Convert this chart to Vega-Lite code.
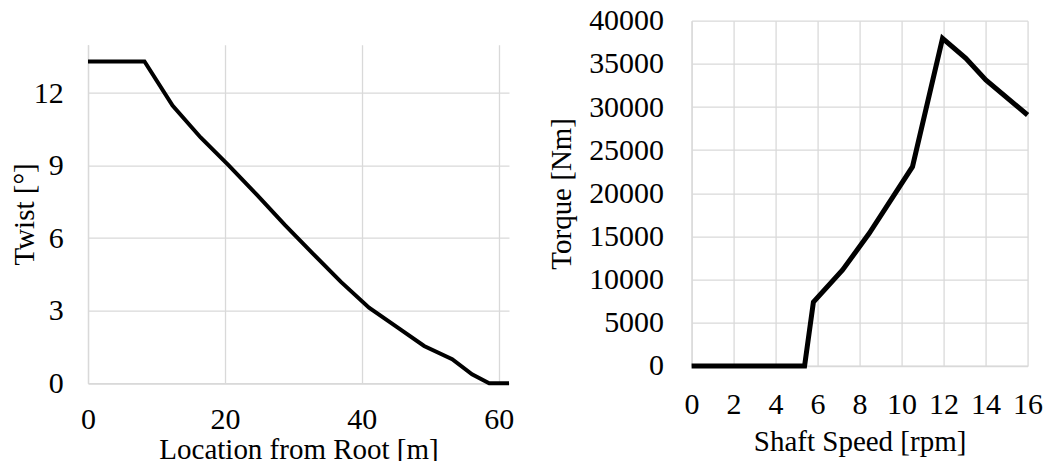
{
  "$schema": "https://vega.github.io/schema/vega-lite/v6.json",
  "padding": {"left": 10, "top": 5.7, "right": 0, "bottom": 0},
  "spacing": 30.6,
  "config": {
    "font": "Liberation Serif",
    "view": {"stroke": null},
    "concat": {"spacing": 20},
    "axis": {
      "labelFont": "Liberation Serif",
      "labelFontSize": 30,
      "labelColor": "#000000",
      "titleFont": "Liberation Serif",
      "titleFontSize": 29,
      "titleFontWeight": "normal",
      "titleColor": "#000000",
      "ticks": false,
      "tickSize": 0,
      "gridColor": "#d9d9d9",
      "gridWidth": 1.3,
      "domainColor": "#d9d9d9",
      "domainWidth": 1.3,
      "labelOverlap": false,
      "labelFlush": false
    }
  },
  "hconcat": [
    {
      "spacing": 20,
      "vconcat": [
        {
          "width": 1,
          "height": 3.3,
          "data": {"values": [{"k": 0}]},
          "mark": {"type": "point", "opacity": 0, "size": 0},
          "encoding": {}
        },
        {
          "width": 421,
          "height": 338.5,
          "data": {"values": [
            {"loc": 0, "twist": 13.308},
            {"loc": 8.25, "twist": 13.308},
            {"loc": 12.35, "twist": 11.48},
            {"loc": 16.45, "twist": 10.162},
            {"loc": 20.55, "twist": 9.011},
            {"loc": 24.65, "twist": 7.795},
            {"loc": 28.75, "twist": 6.544},
            {"loc": 32.85, "twist": 5.361},
            {"loc": 36.95, "twist": 4.188},
            {"loc": 41.05, "twist": 3.125},
            {"loc": 45.15, "twist": 2.319},
            {"loc": 49.1, "twist": 1.54},
            {"loc": 53.2, "twist": 0.99},
            {"loc": 56.1, "twist": 0.37},
            {"loc": 58.6, "twist": 0},
            {"loc": 61.5, "twist": 0}
          ]},
          "mark": {"type": "line", "color": "#000000", "strokeWidth": 4, "clip": false},
          "encoding": {
            "x": {"field": "loc", "type": "quantitative", "title": "Location from Root [m]",
                  "scale": {"domain": [0, 61.5], "nice": false},
                  "axis": {"values": [0, 20, 40, 60], "labelPadding": 21.7, "titlePadding": 0.6, "titleFontSize": 29}},
            "y": {"field": "twist", "type": "quantitative", "title": "Twist [°]",
                  "scale": {"domain": [0, 14], "nice": false},
                  "axis": {"values": [0, 3, 6, 9, 12], "labelPadding": 24.8, "titlePadding": -6.6, "titleFontSize": 29}}
          }
        }
      ]
    },
    {
      "width": 336,
      "height": 345.3,
      "data": {"values": [
        {"speed": 0, "torque": 0},
        {"speed": 5.38, "torque": 0},
        {"speed": 5.8, "torque": 7400},
        {"speed": 7.19, "torque": 11120},
        {"speed": 8.46, "torque": 15370},
        {"speed": 10.52, "torque": 23090},
        {"speed": 11.95, "torque": 37960},
        {"speed": 13.06, "torque": 35640},
        {"speed": 14.01, "torque": 33130},
        {"speed": 16, "torque": 29080}
      ]},
      "mark": {"type": "line", "color": "#000000", "strokeWidth": 5, "clip": false},
      "encoding": {
        "x": {"field": "speed", "type": "quantitative", "title": "Shaft Speed [rpm]",
              "scale": {"domain": [0, 16], "nice": false},
              "axis": {"values": [0, 2, 4, 6, 8, 10, 12, 14, 16], "labelPadding": 23.6, "titlePadding": 8.4, "titleFontSize": 29}},
        "y": {"field": "torque", "type": "quantitative", "title": "Torque [Nm]",
              "scale": {"domain": [0, 40000], "nice": false},
              "axis": {"values": [0, 5000, 10000, 15000, 20000, 25000, 30000, 35000, 40000], "format": "d", "labelPadding": 28, "titlePadding": 11.6, "titleFontSize": 29}}
      }
    }
  ]
}
